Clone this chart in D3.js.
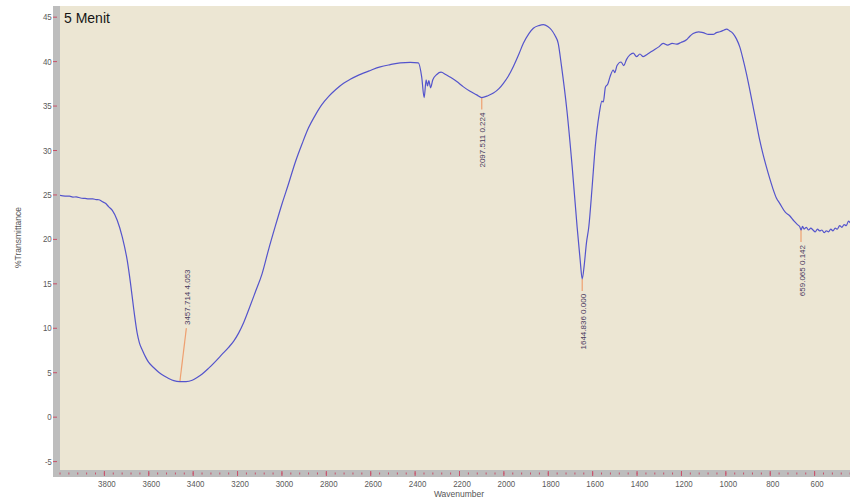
<!DOCTYPE html>
<html>
<head>
<meta charset="utf-8">
<script src="https://cdn.jsdelivr.net/npm/d3@7"></script>
<style>
  html, body { margin: 0; padding: 0; background: #ffffff; }
  svg { display: block; font-family: "Liberation Sans", Arial, sans-serif; }
</style>
</head>
<body>
<svg id="chart" width="850" height="502"></svg>
<script>
// FTIR spectrum: wavenumber (cm-1) against % transmittance
const wavenumber = [
  4000, 3975, 3955, 3940, 3925, 3905, 3885, 3868, 3850, 3835, 3823, 3808, 3793, 3778, 3762,
  3740, 3717, 3695, 3680, 3665, 3650, 3640, 3627, 3612, 3598, 3575, 3553, 3530, 3508, 3485,
  3457.714, 3430, 3402, 3380, 3357, 3330, 3298, 3268, 3238, 3215, 3193, 3170, 3148, 3118, 3087,
  3058, 3028, 2998, 2968, 2938, 2907, 2878, 2848, 2818, 2788, 2755, 2720, 2690, 2650, 2600,
  2555, 2510, 2465, 2420, 2383, 2368, 2357, 2348, 2342, 2336, 2328, 2318, 2300, 2281, 2260,
  2240, 2210, 2180, 2150, 2120, 2097.511, 2070, 2045, 2020, 2000, 1978, 1955, 1930, 1910, 1885,
  1865, 1840, 1820, 1800, 1783, 1768, 1753, 1738, 1714, 1690, 1668, 1654, 1644.836, 1636, 1626,
  1615, 1600, 1586, 1568, 1556, 1550, 1540, 1530, 1520, 1505, 1498, 1488, 1470, 1458, 1445,
  1430, 1415, 1400, 1385, 1370, 1350, 1325, 1300, 1280, 1260, 1240, 1220, 1200, 1175, 1160,
  1145, 1120, 1100, 1075, 1055, 1040, 1025, 1005, 995, 980, 965, 950, 935, 920, 905,
  890, 875, 860, 845, 830, 815, 800, 785, 770, 755, 730, 710, 690, 675, 665,
  659.065, 652, 645, 635, 625, 615, 605, 595, 585, 575, 565, 555, 545, 535, 525,
  515, 505, 495, 485, 475, 465, 455, 445, 435, 420, 400
];
const transmittance = [
  24.9, 24.8, 24.8, 24.7, 24.72, 24.6, 24.55, 24.5, 24.5, 24.42, 24.4, 24.2, 24.0, 23.6, 23.2,
  22.1, 20.2, 17.6, 15.0, 12.0, 9.4, 8.3, 7.5, 6.7, 6.1, 5.5, 5.0, 4.6, 4.3, 4.05,
  3.95, 3.95, 4.1, 4.4, 4.8, 5.4, 6.2, 7.0, 7.8, 8.5, 9.4, 10.6, 12.0, 14.0, 16.1,
  18.8, 21.4, 23.9, 26.2, 28.6, 30.7, 32.5, 33.9, 35.1, 36.0, 36.8, 37.5, 37.95, 38.45, 38.95,
  39.35, 39.6, 39.8, 39.85, 39.8, 38.2, 35.9, 37.9, 37.2, 37.8, 37.0, 37.9, 38.5, 38.75, 38.5,
  38.2, 37.7, 37.1, 36.6, 36.2, 35.9, 36.1, 36.4, 36.9, 37.5, 38.3, 39.4, 40.8, 42.0, 43.1,
  43.7, 44.0, 44.1, 43.9, 43.5, 42.9, 42.0, 39.4, 34.5, 28.1, 21.4, 17.6, 15.5, 17.0, 19.5,
  21.4, 25.9, 30.4, 34.1, 35.5, 35.4, 37.1, 37.4, 38.2, 39.0, 38.7, 39.5, 39.9, 39.5, 40.2,
  40.7, 40.9, 40.5, 40.8, 40.5, 40.8, 41.2, 41.6, 42.0, 41.8, 42.0, 41.9, 42.1, 42.4, 42.8,
  43.1, 43.3, 43.2, 43.0, 43.0, 43.2, 43.3, 43.5, 43.6, 43.4, 43.1, 42.5, 41.6, 40.2, 38.6,
  36.8, 34.9, 33.0, 31.1, 29.5, 28.1, 26.8, 25.6, 24.6, 24.0, 23.0, 22.6, 22.0, 21.6, 21.4,
  21.0, 21.4, 21.1, 21.3, 21.0, 21.2, 21.0, 20.8, 21.1, 20.9, 21.0, 20.7, 20.9, 20.8, 21.1,
  20.9, 21.2, 21.1, 21.5, 21.3, 21.6, 21.5, 22.0, 21.8, 22.2, 22.3
];

// Picked peaks
const peakWavenumber = [3457.714, 2097.511, 1644.836, 659.065];
const peakLabels = ["3457.714 4.053", "2097.511 0.224", "1644.836 0.000", "659.065 0.142"];

// Axis ticks
const xTickValues = [3800, 3600, 3400, 3200, 3000, 2800, 2600, 2400, 2200, 2000, 1800, 1600, 1400, 1200, 1000, 800, 600];
const xMinorTickValues = d3.range(4000, 399, -40);
const yTickValues = [-5, 0, 5, 10, 15, 20, 25, 30, 35, 40, 45];

const chartTitle = "5 Menit";
const xTitle = "Wavenumber";
const yTitle = "%Transmittance";

// ---- drawing ----
const svg = d3.select("#chart");
const plot = { left: 60, right: 850, top: 6, bottom: 470 };

const x = d3.scaleLinear().domain([4000, 400]).range([59.5, 858.5]);
const y = d3.scaleLinear().domain([-6, 46.2]).range([470, 6]);

const series = wavenumber.map((w, i) => ({ wn: w, t: transmittance[i] }));

// plot background
svg.append("rect")
  .attr("x", plot.left).attr("y", plot.top)
  .attr("width", plot.right - plot.left).attr("height", plot.bottom - plot.top)
  .attr("fill", "#ece6d3");

// axis bands
svg.append("rect")
  .attr("x", 53).attr("y", plot.top)
  .attr("width", plot.left - 53).attr("height", 477 - plot.top)
  .attr("fill", "#bdbdbd");
svg.append("rect")
  .attr("x", 53).attr("y", plot.bottom)
  .attr("width", plot.right - 53).attr("height", 7)
  .attr("fill", "#bdbdbd");

svg.append("clipPath").attr("id", "plotClip")
  .append("rect")
  .attr("x", plot.left).attr("y", plot.top)
  .attr("width", plot.right - plot.left).attr("height", plot.bottom - plot.top);

// tick label width helper (narrow axis font)
const labelLength = s => s.split("").reduce((a, c) => a + (c === "-" ? 2.4 : 4.4), 0);

// x axis: minor ticks
const xMinor = svg.append("g")
  .attr("transform", `translate(0,${plot.bottom + 2.5})`)
  .call(d3.axisBottom(x).tickValues(xMinorTickValues).tickSize(2).tickFormat(""));
xMinor.select(".domain").remove();
xMinor.selectAll(".tick line").attr("stroke", "#c8506a").attr("stroke-width", 1);

// x axis: major ticks and labels
const xAxis = svg.append("g")
  .attr("transform", `translate(0,${plot.bottom + 1})`)
  .call(d3.axisBottom(x).tickValues(xTickValues).tickSize(5).tickPadding(3.8).tickFormat(d => String(d)));
xAxis.select(".domain").remove();
xAxis.selectAll(".tick line").attr("stroke", "#c8506a").attr("stroke-width", 1);
xAxis.selectAll(".tick text")
  .attr("fill", "#5a5a5a")
  .attr("font-size", "9.5px")
  .attr("font-family", "Liberation Sans, Arial, sans-serif")
  .attr("dx", 2.5)
  .attr("textLength", d => labelLength(String(d)))
  .attr("lengthAdjust", "spacingAndGlyphs");

// y axis
const yAxis = svg.append("g")
  .attr("transform", "translate(57,0)")
  .call(d3.axisLeft(y).tickValues(yTickValues).tickSize(4).tickPadding(1.3).tickFormat(d => String(d)));
yAxis.select(".domain").remove();
yAxis.selectAll(".tick line").attr("stroke", "#c8506a").attr("stroke-width", 1);
yAxis.selectAll(".tick text")
  .attr("fill", "#5a5a5a")
  .attr("font-size", "9.5px")
  .attr("font-family", "Liberation Sans, Arial, sans-serif")
  .attr("textLength", d => labelLength(String(d)))
  .attr("lengthAdjust", "spacingAndGlyphs");

// axis titles
svg.append("text")
  .attr("x", 459).attr("y", 496.5)
  .attr("text-anchor", "middle")
  .attr("font-size", "8.5px")
  .attr("fill", "#555")
  .text(xTitle);
svg.append("text")
  .attr("transform", "translate(20.5,237.5) rotate(-90)")
  .attr("text-anchor", "middle")
  .attr("font-size", "8.5px")
  .attr("fill", "#555")
  .text(yTitle);

// spectrum
const line = d3.line()
  .x(d => x(d.wn))
  .y(d => y(d.t))
  .curve(d3.curveMonotoneX);

const plotLayer = svg.append("g").attr("clip-path", "url(#plotClip)");

// peak markers
const peakPlacement = ["above", "below", "below", "below"];
const peaks = peakWavenumber.map((w, i) => {
  const pt = series.find(d => d.wn === w);
  return { wn: w, t: pt.t, label: peakLabels[i], place: peakPlacement[i] };
});

peaks.forEach(p => {
  const px = x(p.wn), py = y(p.t);
  if (p.place === "above") {
    plotLayer.append("line")
      .attr("x1", px).attr("y1", py)
      .attr("x2", px + 6.5).attr("y2", py - 53.5)
      .attr("stroke", "#eea070").attr("stroke-width", 1.2);
    plotLayer.append("text")
      .attr("transform", `translate(${px + 10.5},${py - 56.5}) rotate(-90)`)
      .attr("text-anchor", "start")
      .attr("font-size", "8px")
      .attr("fill", "#4a3a5e")
      .text(p.label);
  } else {
    plotLayer.append("line")
      .attr("x1", px).attr("y1", py)
      .attr("x2", px).attr("y2", py + 12)
      .attr("stroke", "#eea070").attr("stroke-width", 1.2);
    plotLayer.append("text")
      .attr("transform", `translate(${px + 3.6},${py + 15}) rotate(-90)`)
      .attr("text-anchor", "end")
      .attr("font-size", "8px")
      .attr("fill", "#4a3a5e")
      .text(p.label);
  }
});

plotLayer.append("path")
  .datum(series)
  .attr("fill", "none")
  .attr("stroke", "#5454cc")
  .attr("stroke-width", 1.2)
  .attr("stroke-linejoin", "round")
  .attr("d", line);

// sample title
svg.append("text")
  .attr("x", 64).attr("y", 22.7)
  .attr("font-size", "14px")
  .attr("fill", "#151515")
  .text(chartTitle);
</script>
</body>
</html>
